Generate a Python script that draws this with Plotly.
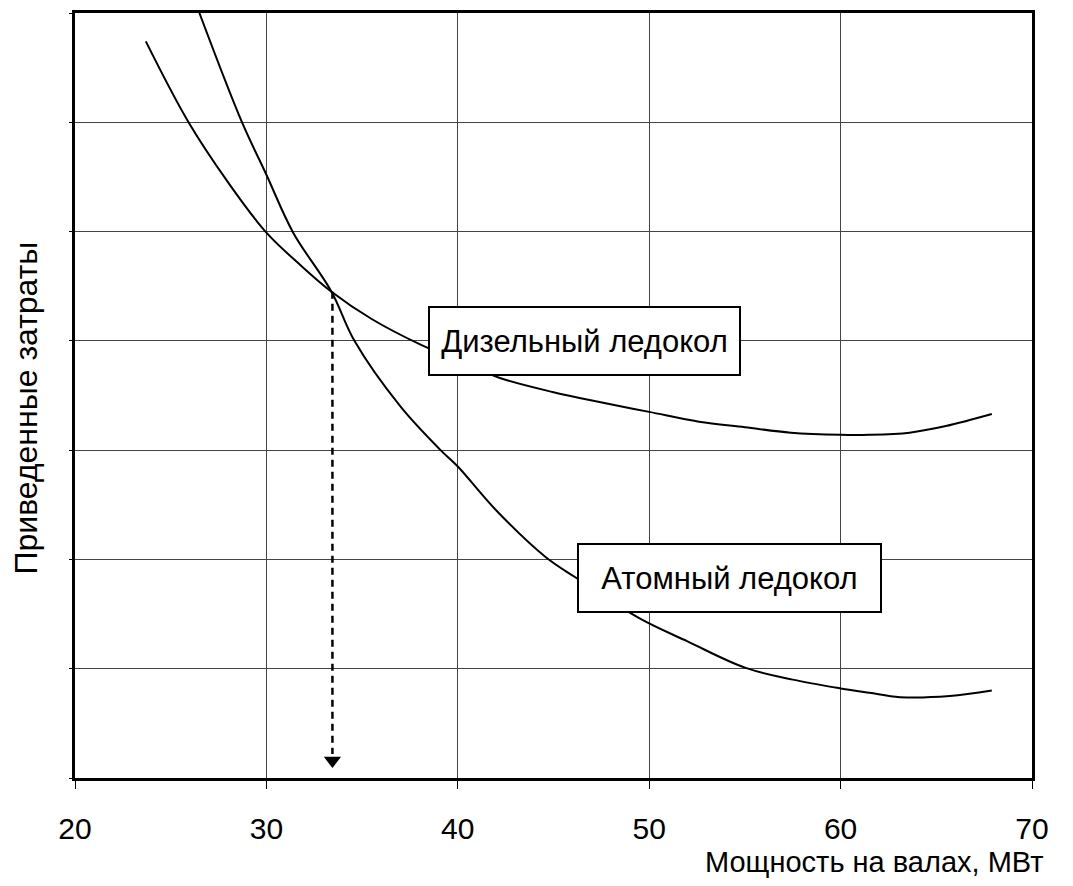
import plotly.graph_objects as go

# Data (x in MW, y in relative units 0..7)
diesel_x = [23.7, 25.9, 28.0, 30.0, 31.8, 33.4, 35.5, 38.0, 40.0, 42.2, 45.0, 47.4, 50.0, 52.6, 55.0, 57.4, 60.0, 61.5, 63.6, 65.5, 67.9]
diesel_y = [6.74, 6.01, 5.45, 4.99, 4.69, 4.45, 4.20, 3.97, 3.82, 3.66, 3.53, 3.44, 3.35, 3.26, 3.21, 3.16, 3.14, 3.14, 3.16, 3.22, 3.33]

atom_x = [26.5, 28.7, 30.0, 31.4, 33.4, 34.6, 37.0, 39.1, 40.0, 42.0, 44.6, 46.2, 49.5, 52.0, 55.0, 57.5, 60.0, 61.5, 63.1, 65.7, 67.9]
atom_y = [7.0, 6.01, 5.52, 4.99, 4.45, 4.00, 3.40, 3.00, 2.85, 2.45, 2.02, 1.83, 1.46, 1.25, 1.01, 0.90, 0.82, 0.78, 0.74, 0.75, 0.80]

cross_x = 33.45
cross_y = 4.45
arrow_end_y = 0.1

x_ticks = [20, 30, 40, 50, 60, 70]
y_ticks = [0, 1, 2, 3, 4, 5, 6, 7]

label_diesel = "Дизельный ледокол"
label_atom = "Атомный ледокол"
x_title = "Мощность на валах, МВт"
y_title = "Приведенные затраты"

FONT = "Liberation Sans, Arial, sans-serif"

fig = go.Figure()
fig.add_trace(go.Scatter(x=diesel_x, y=diesel_y, mode="lines",
                         line=dict(color="black", width=2, shape="spline", smoothing=1.0),
                         showlegend=False, hoverinfo="skip"))
fig.add_trace(go.Scatter(x=atom_x, y=atom_y, mode="lines",
                         line=dict(color="black", width=2, shape="spline", smoothing=1.0),
                         showlegend=False, hoverinfo="skip"))
fig.add_trace(go.Scatter(x=[cross_x, cross_x], y=[cross_y, arrow_end_y + 0.12], mode="lines",
                         line=dict(color="black", width=2.5, dash="7px,5px"),
                         showlegend=False, hoverinfo="skip"))
fig.add_trace(go.Scatter(x=[cross_x], y=[arrow_end_y + 0.06], mode="markers",
                         marker=dict(symbol="triangle-down", size=15, color="black"),
                         showlegend=False, hoverinfo="skip"))

fig.add_annotation(x=46.6, y=4.0, xref="x", yref="y", text=label_diesel, showarrow=False,
                   font=dict(family=FONT, size=31, color="black"),
                   bgcolor="white", bordercolor="black", borderwidth=2, borderpad=4,
                   width=301, height=58)
fig.add_annotation(x=54.2, y=1.83, xref="x", yref="y", text=label_atom, showarrow=False,
                   font=dict(family=FONT, size=31, color="black"),
                   bgcolor="white", bordercolor="black", borderwidth=2, borderpad=4,
                   width=293, height=58)

fig.add_annotation(x=1.0, y=0, xref="paper", yref="paper", xanchor="right", yanchor="middle",
                   xshift=13, yshift=-84, text=x_title, showarrow=False,
                   font=dict(family=FONT, size=29, color="black"))
fig.add_annotation(x=0, y=0.5, xref="paper", yref="paper", xanchor="center", yanchor="middle",
                   xshift=-50, yshift=-13, text=y_title, showarrow=False, textangle=-90,
                   font=dict(family=FONT, size=32, color="black"))

fig.update_xaxes(range=[20, 70], tickvals=x_ticks, ticktext=[str(v) for v in x_ticks],
                 showgrid=True, gridcolor="#444", gridwidth=1,
                 showline=True, linecolor="black", linewidth=2.5, mirror=True,
                 ticks="outside", ticklen=8, tickcolor="black", tickwidth=1,
                 ticklabelstandoff=14,
                 tickfont=dict(family=FONT, size=30, color="black"), zeroline=False)
fig.update_yaxes(range=[0, 7], tickvals=y_ticks, showticklabels=False,
                 showgrid=True, gridcolor="#444", gridwidth=1,
                 showline=True, linecolor="black", linewidth=2.5, mirror=True,
                 ticks="outside", ticklen=3, tickcolor="black", tickwidth=1, zeroline=False)

# page body has an 8px margin, so the figure is sized to fit the 1073x886 window
fig.update_layout(width=1065, height=878, plot_bgcolor="white", paper_bgcolor="white",
                  margin=dict(l=67, r=41, t=2, b=108), showlegend=False,
                  font=dict(family=FONT, color="black"))

fig.write_html("out.html")
